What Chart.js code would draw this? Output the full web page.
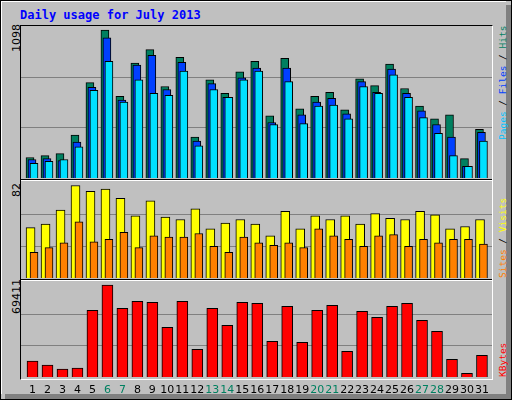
<!DOCTYPE html>
<html><head><meta charset="utf-8">
<script src="https://cdn.jsdelivr.net/npm/chart.js@4"></script>
<style>
body{margin:0;background:#c0c0c0;}
#o{position:absolute;left:0;top:0;width:510px;height:398px;border:1px solid #000;background:#c0c0c0;overflow:hidden;}
#bev{position:absolute;left:0;top:0;width:504px;height:392px;border-top:1px solid #fff;border-left:1px solid #fff;}
#sh{position:absolute;left:505px;top:4px;width:5px;height:394px;background:#808080;}
#sh2{position:absolute;left:4px;top:393px;width:506px;height:5px;background:#808080;}
canvas{position:absolute;}
.t{position:absolute;font-family:"DejaVu Sans Mono",monospace;white-space:nowrap;}
.r{transform-origin:0 0;transform:rotate(-90deg);}
.ln{position:absolute;height:1px;}
</style></head><body>
<div id="o"><div id="bev"></div><div id="sh"></div><div id="sh2"></div>
<div class="t" style="left:19px;top:7px;color:#0000ff;font-weight:bold;font-size:12px;">Daily usage for July 2013</div>
<div class="t r" style="left:9px;top:51px;font-size:11px;font-family:'DejaVu Sans',sans-serif;">1098</div>
<div class="t r" style="left:9px;top:196px;font-size:11px;font-family:'DejaVu Sans',sans-serif;">82</div>
<div class="t r" style="left:9px;top:313px;font-size:11px;font-family:'DejaVu Sans',sans-serif;">69411</div>
<div class="t r" style="left:496px;top:139px;font-size:9.5px;"><span style="color:#00c0ff">Pages</span> / <span style="color:#0040ff">Files</span> / <span style="color:#008060">Hits</span></div>
<div class="t r" style="left:496px;top:277px;font-size:9.5px;"><span style="color:#ff8000">Sites</span> / <span style="color:#ffff00">Visits</span></div>
<div class="t r" style="left:496px;top:376px;font-size:9.5px;"><span style="color:#ff0000">KBytes</span></div>
<div style="position:absolute;left:19px;top:24px;width:471px;height:353px;border-top:1px solid #000;border-left:1px solid #000;border-right:1px solid #fff;border-bottom:1px solid #fff;"></div>
<div class="ln" style="left:20px;top:178px;width:471px;background:#000"></div>
<div class="ln" style="left:20px;top:179px;width:471px;background:#fff"></div>
<div class="ln" style="left:20px;top:278px;width:471px;background:#000"></div>
<div class="ln" style="left:20px;top:279px;width:471px;background:#fff"></div>
<canvas id="c1" width="471" height="152" style="left:20px;top:25px"></canvas>
<canvas id="c2" width="471" height="97" style="left:20px;top:181px"></canvas>
<canvas id="c3" width="471" height="119" style="left:20px;top:281px"></canvas>
</div>
<script>
const days=[1,2,3,4,5,6,7,8,9,10,11,12,13,14,15,16,17,18,19,20,21,22,23,24,25,26,27,28,29,30,31];
const weekend=[6,7,13,14,20,21,27,28];
const hits=[152,166,181,318,708,1098,607,852,953,679,895,303,729,628,787,866,462,888,513,607,635,505,736,686,845,664,534,440,469,144,361];
const files=[137,144,130,267,672,1040,578,838,910,657,859,274,700,599,744,816,412,816,469,563,592,477,715,635,809,628,498,397,303,87,339];
const pages=[108,123,137,231,650,866,563,729,628,614,794,238,657,599,729,794,397,715,404,534,542,440,679,628,765,599,448,332,166,87,274];
const visits=[43,46,58,79,74,76,68,53,66,52,50,59,42,47,50,46,36,57,42,53,50,53,46,55,51,50,57,54,42,44,50];
const sites=[22,26,30,48,31,33,39,26,36,35,35,38,27,22,35,30,28,30,26,42,36,33,27,36,37,27,33,30,33,33,29];
const kbytes=[11690,8770,5850,6580,48700,67200,50200,55300,54600,36300,55300,20200,50200,37800,54600,53800,26100,51600,25300,48700,52400,18800,48000,43600,51600,53800,41400,33400,12900,2700,15800];
const maxes=[1128,82,69411];
const XMIN=0.132, XMAX=31.57;
function pts(arr,off){return arr.map((v,i)=>({x:days[i]+off,y:v}));}
function ds(arr,off,col,w,ord){return {data:pts(arr,off),backgroundColor:col,borderColor:'#000',borderWidth:1,borderSkipped:'bottom',barThickness:w,order:ord,grouped:false};}
const grid={id:'grid',beforeDatasetsDraw(c){const y=c.scales.y,ctx=c.ctx,m=y.max;ctx.save();ctx.strokeStyle='#808080';ctx.lineWidth=1;
 for(const f of [1/3,2/3]){const p=Math.round(y.getPixelForValue(m*f))+0.5;ctx.beginPath();ctx.moveTo(c.chartArea.left,p);ctx.lineTo(c.chartArea.right,p);ctx.stroke();}ctx.restore();}};
const labels={id:'lab',afterDraw(c){if(c.canvas.id!=='c3')return;const ctx=c.ctx,x=c.scales.x;ctx.save();ctx.font='11px "DejaVu Sans", sans-serif';ctx.textAlign='center';ctx.textBaseline='middle';
 days.forEach(d=>{ctx.fillStyle=weekend.includes(d)?'#008060':'#000';ctx.fillText(String(d),x.getPixelForValue(d-0.1),108);});ctx.restore();}};
function mk(id,datasets,max,padB){return new Chart(document.getElementById(id),{type:'bar',data:{datasets},
 options:{responsive:false,animation:false,layout:{padding:{left:0,right:0,top:0,bottom:padB}},
 plugins:{legend:{display:false},tooltip:{enabled:false}},
 scales:{x:{type:'linear',offset:false,min:XMIN,max:XMAX,display:false},y:{min:0,max:max,display:false}}},plugins:[grid,labels]});}
mk('c1',[ds(pages,0,'#00e0ff',8,0),ds(files,-0.134,'#0040ff',8,1),ds(hits,-0.267,'#008060',8,2)],maxes[0],0);
mk('c2',[ds(sites,0,'#ff8000',8,0),ds(visits,-0.23,'#ffff00',9,1)],maxes[1],1);
mk('c3',[ds(kbytes,-0.1,'#ff0000',11,0)],maxes[2],24);
</script></body></html>
